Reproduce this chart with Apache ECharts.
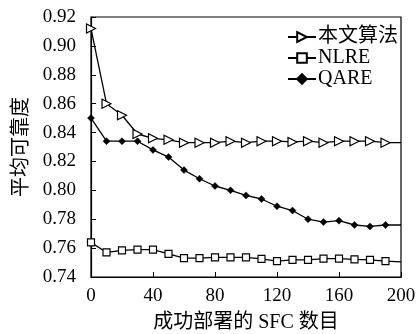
<!DOCTYPE html>
<html><head><meta charset="utf-8">
<script src="https://cdn.jsdelivr.net/npm/echarts@6/dist/echarts.min.js"></script>
<style>html,body{margin:0;padding:0;background:#fff}#c{width:418px;height:334px}</style>
</head><body><div id="c"></div>
<script>
const xValues = [0,10,20,30,40,50,60,70,80,90,100,110,120,130,140,150,160,170,180,190,200];
const seriesNames = ['本文算法','NLRE','QARE'];
const oursValues = [0.912,0.860,0.852,0.839,0.836,0.835,0.833,0.833,0.833,0.834,0.833,0.834,0.834,0.8335,0.834,0.833,0.834,0.834,0.834,0.833,0.833];
const nlreValues = [0.764,0.757,0.7585,0.759,0.759,0.756,0.753,0.753,0.7536,0.7536,0.7536,0.7525,0.751,0.7518,0.7518,0.7527,0.7527,0.7522,0.7518,0.751,0.7505];
const qareValues = [0.850,0.834,0.834,0.834,0.828,0.823,0.814,0.808,0.803,0.800,0.7965,0.794,0.789,0.786,0.780,0.778,0.779,0.776,0.775,0.776,0.776];
const yTicks = {min:0.74, max:0.92, step:0.02};
const xTicks = {min:0, max:200, step:40};

const font = '"Liberation Serif","Noto Sans CJK SC",serif';
function mk(vals){
  return vals.map((v,i)=> i===vals.length-1 ? {value:[xValues[i],v], symbol:'none'} : [xValues[i],v]);
}
const chart = echarts.init(document.getElementById('c'), null, {renderer:'canvas'});
chart.setOption({
  animation:false,
  grid:{left:91,right:17,top:17,bottom:57,containLabel:false,outerBoundsMode:'none',show:true,borderColor:'#000',borderWidth:1.2,backgroundColor:'transparent'},
  legend:{
    orient:'vertical', left:282, top:22, itemWidth:28, itemHeight:12, itemGap:1,
    textStyle:{fontFamily:font,fontSize:20,color:'#000',lineHeight:19,padding:[0,0,0,-3]},
    data:seriesNames
  },
  xAxis:{
    type:'value', min:xTicks.min, max:xTicks.max, interval:xTicks.step,
    name:'成功部署的 SFC 数目', nameLocation:'middle', nameGap:36,
    nameTextStyle:{fontFamily:font,fontSize:20,color:'#000'},
    axisLine:{lineStyle:{color:'#000',width:1.2}},
    axisTick:{inside:true,length:5,lineStyle:{color:'#000'}},
    axisLabel:{fontFamily:font,fontSize:19,color:'#000',margin:10},
    splitLine:{show:false}
  },
  yAxis:{
    type:'value', min:yTicks.min, max:yTicks.max, interval:yTicks.step,
    name:'平均可靠度', nameLocation:'middle', nameGap:51,
    nameTextStyle:{fontFamily:font,fontSize:20,color:'#000'},
    axisLine:{show:true,lineStyle:{color:'#000',width:1.2}},
    axisTick:{show:true,inside:true,length:5,lineStyle:{color:'#000'}},
    axisLabel:{fontFamily:font,fontSize:19,color:'#000',margin:15,formatter:v=>v.toFixed(2)},
    splitLine:{show:false}
  },
  series:[
    {name:seriesNames[0],type:'line',data:mk(oursValues),symbol:'triangle',symbolRotate:-90,symbolSize:9,
     itemStyle:{color:'#fff',borderColor:'#000',borderWidth:1.2},lineStyle:{color:'#000',width:1.3}},
    {name:seriesNames[1],type:'line',data:mk(nlreValues),symbol:'rect',symbolSize:7,
     itemStyle:{color:'#fff',borderColor:'#000',borderWidth:1.2},lineStyle:{color:'#000',width:1.3}},
    {name:seriesNames[2],type:'line',data:mk(qareValues),symbol:'diamond',symbolSize:7,
     itemStyle:{color:'#000',borderColor:'#000',borderWidth:0.5},lineStyle:{color:'#000',width:1.3}}
  ]
});
</script></body></html>
